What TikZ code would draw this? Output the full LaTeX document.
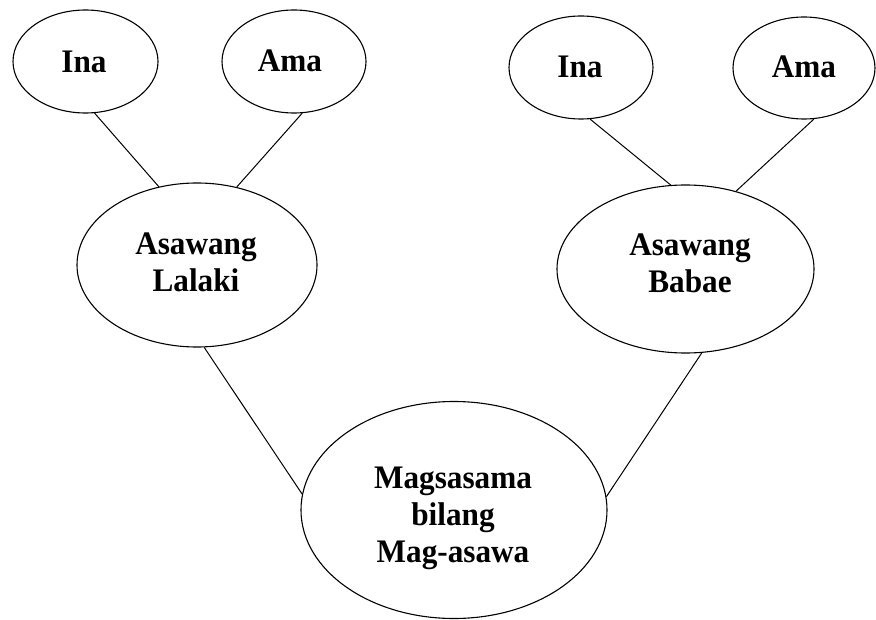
\documentclass[tikz,border=0pt]{standalone}
\usepackage{fontspec}
\setmainfont{Liberation Serif}[FakeStretch=0.95]
\usetikzlibrary{shapes.geometric}
\tikzset{
  oval/.style={ellipse, draw=black, line width=1.1bp, inner sep=0pt},
  txt/.style={inner sep=0pt, align=center,
    font=\bfseries\fontsize{33}{37}\selectfont},
  link/.style={draw=black, line width=1bp}
}
\begin{document}
\begin{tikzpicture}[x=1bp, y=-1bp]
\useasboundingbox (0,0) rectangle (876,620);
\node[oval, minimum width=145bp, minimum height=103bp] (ina1) at (85.5,61.5) {};
\node[oval, minimum width=144bp, minimum height=103bp] (ama1) at (294,61.5) {};
\node[oval, minimum width=144bp, minimum height=103bp] (ina2) at (581,67.5) {};
\node[oval, minimum width=142bp, minimum height=102bp] (ama2) at (804,68) {};
\node[oval, minimum width=240bp, minimum height=164bp] (lalaki) at (197,265) {};
\node[oval, minimum width=257bp, minimum height=168bp] (babae) at (685.5,269) {};
\node[oval, minimum width=306bp, minimum height=217bp] (mag) at (454,510) {};
\node[txt] (tina1) at (84,62) {Ina};
\node[txt] (tama1) at (290,60.5) {Ama};
\node[txt] (tina2) at (580,67) {Ina};
\node[txt] (tama2) at (804,67) {Ama};
\node[txt] (tlalaki) at (196,262) {Asawang\\Lalaki};
\node[txt] (tbabae) at (690,263.5) {Asawang\\Babae};
\node[txt] (tmag) at (453,518) {Magsasama\\bilang\\Mag-asawa};
\draw[link] (ina1.280) -- (lalaki.116);
\draw[link] (ama1.279) -- (lalaki.63);
\draw[link] (ina2.280) -- (babae.100);
\draw[link] (ama2.281) -- (babae.57);
\draw[link] (lalaki.275) -- (mag.174);
\draw[link] (babae.281) -- (mag.5);
\end{tikzpicture}
\end{document}
